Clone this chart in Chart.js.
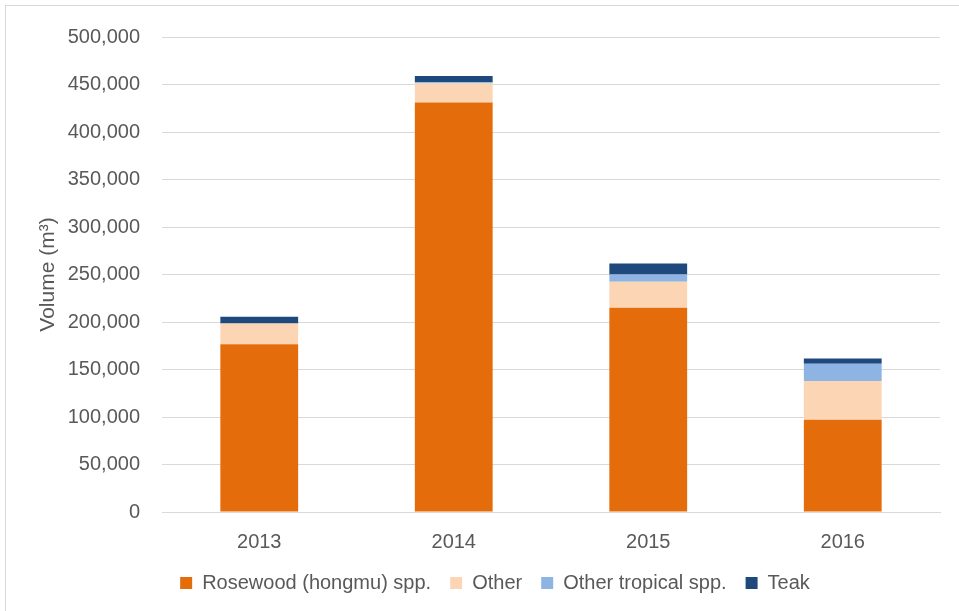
<!DOCTYPE html>
<html>
<head>
<meta charset="utf-8">
<script src="https://cdn.jsdelivr.net/npm/chart.js@4.4.0/dist/chart.umd.min.js"></script>
<style>
  html, body { margin: 0; padding: 0; background: #ffffff; }
  #wrap { position: relative; width: 959px; height: 611px; }
</style>
</head>
<body>
<div id="wrap"><canvas id="c" width="959" height="611"></canvas></div>
<script>
const categories = ['2013', '2014', '2015', '2016'];
const rosewood = [176500, 431000, 215000, 97000];
const other = [22000, 20000, 27500, 41000];
const otherTropical = [0, 1500, 7500, 18000];
const teak = [7000, 6500, 11500, 5500];
const seriesNames = ['Rosewood (hongmu) spp.', 'Other', 'Other tropical spp.', 'Teak'];
const yAxisTitle = 'Volume (m³)';

const FONT = "'Liberation Sans', Arial, sans-serif";
const TEXT = '#595959';

const framePlugin = {
  id: 'frame',
  beforeDraw(chart) {
    const ctx = chart.ctx;
    ctx.save();
    ctx.fillStyle = '#ffffff';
    ctx.fillRect(0, 0, chart.width, chart.height);
    ctx.strokeStyle = '#d9d9d9';
    ctx.lineWidth = 1;
    ctx.strokeRect(5.5, 5.5, chart.width + 10, chart.height + 10);
    ctx.restore();
  }
};
const legendAdjust = {
  id: 'legendAdjust',
  afterLayout(chart) {
    const lg = chart.legend;
    if (lg) {
      lg.left += 11; lg.right += 11;
      lg.top -= 18; lg.bottom -= 18;
    }
  }
};

new Chart(document.getElementById('c'), {
  type: 'bar',
  data: {
    labels: categories,
    datasets: [
      { label: seriesNames[0], data: rosewood, backgroundColor: '#E46C0A' },
      { label: seriesNames[1], data: other, backgroundColor: '#FCD5B5' },
      { label: seriesNames[2], data: otherTropical, backgroundColor: '#8EB4E3' },
      { label: seriesNames[3], data: teak, backgroundColor: '#1F497D' }
    ]
  },
  options: {
    responsive: false,
    animation: false,
    devicePixelRatio: 1,
    categoryPercentage: 0.8,
    barPercentage: 0.5,
    layout: { padding: { left: 28, right: 19, top: 37, bottom: -10 } },
    plugins: {
      legend: {
        position: 'bottom',
        labels: {
          boxWidth: 12, boxHeight: 12, padding: 19,
          color: TEXT, font: { family: FONT, size: 20 }
        }
      },
      tooltip: { enabled: false },
      title: { display: false }
    },
    scales: {
      x: {
        stacked: true,
        grid: { display: false, drawTicks: false },
        border: { display: true, color: '#d9d9d9', width: 1 },
        ticks: { color: TEXT, padding: 18, font: { family: FONT, size: 20 } }
      },
      y: {
        stacked: true,
        min: 0, max: 500000,
        grid: { color: '#d9d9d9', drawTicks: false },
        border: { display: false },
        ticks: {
          stepSize: 50000, color: TEXT, padding: 22,
          font: { family: FONT, size: 20 },
          callback: v => v.toLocaleString('en-US')
        },
        title: {
          display: true, text: yAxisTitle, color: TEXT,
          font: { family: FONT, size: 21 }, padding: { top: 8, bottom: 0 }
        },
        afterFit(scale) { scale.width = 134; }
      }
    }
  },
  plugins: [framePlugin, legendAdjust]
});
</script>
</body>
</html>
